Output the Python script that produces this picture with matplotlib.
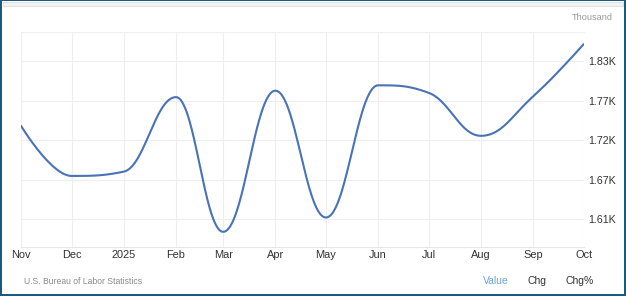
import numpy as np
import matplotlib
matplotlib.use("Agg")
import matplotlib.pyplot as plt
import matplotlib.dates as mdates
from matplotlib.patches import Rectangle
import datetime as dt

# ---- data ----
months = ["2024-11-01", "2024-12-01", "2025-01-01", "2025-02-01", "2025-03-01", "2025-04-01",
          "2025-05-01", "2025-06-01", "2025-07-01", "2025-08-01", "2025-09-01", "2025-10-01"]
values = [1.740, 1.670, 1.676, 1.780, 1.592, 1.789, 1.612, 1.7965, 1.786, 1.726, 1.781, 1.854]
x_tick_labels = ["Nov", "Dec", "2025", "Feb", "Mar", "Apr", "May", "Jun", "Jul", "Aug", "Sep", "Oct"]
y_ticks = [1.61, 1.665, 1.72, 1.775, 1.83]
y_tick_labels = ["1.61K", "1.67K", "1.72K", "1.77K", "1.83K"]
unit_label = "Thousand"
source_label = "U.S. Bureau of Labor Statistics"
buttons = ["Value", "Chg", "Chg%"]

W, H = 626, 296
plt.rcParams["font.family"] = ["Liberation Sans", "DejaVu Sans"]

dates = [dt.datetime.strptime(m, "%Y-%m-%d") for m in months]
xs = np.array(mdates.date2num(dates))
ys = np.array(values, dtype=float)


def spline_path(xs, ys, smoothing=1.5):
    """Highcharts-style spline: cubic bezier segments with no false extremes."""
    n = len(xs)
    denom = smoothing + 1
    rc = [None] * n
    lc = [None] * n
    for i in range(n):
        x, y = xs[i], ys[i]
        if 0 < i < n - 1:
            lx, ly = xs[i - 1], ys[i - 1]
            nx, ny = xs[i + 1], ys[i + 1]
            lcx = (smoothing * x + lx) / denom
            lcy = (smoothing * y + ly) / denom
            rcx = (smoothing * x + nx) / denom
            rcy = (smoothing * y + ny) / denom
            corr = 0.0
            if rcx != lcx:
                corr = (rcy - lcy) * (rcx - x) / (rcx - lcx) + y - rcy
            lcy += corr
            rcy += corr
            if lcy > ly and lcy > y:
                lcy = max(ly, y)
                rcy = 2 * y - lcy
            elif lcy < ly and lcy < y:
                lcy = min(ly, y)
                rcy = 2 * y - lcy
            if rcy > ny and rcy > y:
                rcy = max(ny, y)
                lcy = 2 * y - rcy
            elif rcy < ny and rcy < y:
                rcy = min(ny, y)
                lcy = 2 * y - rcy
            lc[i] = (lcx, lcy)
            rc[i] = (rcx, rcy)
    px, py = [xs[0]], [ys[0]]
    t = np.linspace(0, 1, 60)[1:]
    for i in range(1, n):
        p0 = (xs[i - 1], ys[i - 1])
        p1 = rc[i - 1] if rc[i - 1] is not None else p0
        p3 = (xs[i], ys[i])
        p2 = lc[i] if lc[i] is not None else p3
        bx = ((1 - t) ** 3 * p0[0] + 3 * (1 - t) ** 2 * t * p1[0]
              + 3 * (1 - t) * t ** 2 * p2[0] + t ** 3 * p3[0])
        by = ((1 - t) ** 3 * p0[1] + 3 * (1 - t) ** 2 * t * p1[1]
              + 3 * (1 - t) * t ** 2 * p2[1] + t ** 3 * p3[1])
        px.extend(bx)
        py.extend(by)
    return np.array(px), np.array(py)


fig = plt.figure(figsize=(W / 100, H / 100), dpi=100)
fig.patch.set_facecolor("white")

ax_l, ax_r, ax_t, ax_b = 21, 583.7, 32.3, 246.5
ax = fig.add_axes([ax_l / W, 1 - ax_b / H, (ax_r - ax_l) / W, (ax_b - ax_t) / H])
ax.set_facecolor("white")

sx, sy = spline_path(xs, ys)
ax.plot(sx, sy, color="#4a72b8", lw=1.5, solid_capstyle="round", zorder=3)

ax.set_xlim(xs[0], xs[-1])
ax.set_ylim(1.5715, 1.8705)

ax.set_xticks(xs)
ax.set_xticklabels(x_tick_labels)
ax.set_yticks(y_ticks)
ax.set_yticklabels(y_tick_labels)
ax.yaxis.tick_right()
ax.tick_params(axis="both", length=0, colors="#333333")
ax.tick_params(axis="y", labelsize=7.7, pad=3.5)
ax.tick_params(axis="x", labelsize=7.9, pad=2.5)
ax.grid(True, color="#eeeeee", lw=0.8, zorder=0)
for name, sp in ax.spines.items():
    sp.set_visible(False)
ax.spines["bottom"].set_visible(True)
ax.spines["bottom"].set_color("#e6e6e6")
ax.spines["bottom"].set_linewidth(0.8)
ax.spines["top"].set_visible(True)
ax.spines["top"].set_color("#f0f0f0")
ax.spines["top"].set_linewidth(0.8)

# texts
fig.text(613 / W, 1 - 17.5 / H, unit_label, ha="right", va="center", fontsize=6.6, color="#9a9a9a")
fig.text(24 / W, 1 - 281.5 / H, source_label, ha="left", va="center", fontsize=6.2, color="#8a8a8a")
btn_x = [483, 528, 566]
btn_c = ["#6aa3e0", "#333333", "#333333"]
for lab, bx, bc in zip(buttons, btn_x, btn_c):
    fig.text(bx / W, 1 - 281.5 / H, lab, ha="left", va="center", fontsize=7.5, color=bc)


def px_rect(x0, y0, x1, y1, **kw):
    fig.patches.append(Rectangle((x0 / W, 1 - y1 / H), (x1 - x0) / W, (y1 - y0) / H,
                                 transform=fig.transFigure, figure=fig, **kw))


# top grey strip
px_rect(3, 1.5, 623, 5.5, facecolor="#f2f2f2", edgecolor="#dddddd", lw=0.6)
# dark border
bc = "#1b5a80"
px_rect(0, 0, 2.3, H, facecolor=bc, edgecolor="none")
px_rect(0, 0, W, 1.2, facecolor=bc, edgecolor="none")
px_rect(W - 2.2, 0, W, H, facecolor=bc, edgecolor="none")
px_rect(0, H - 2.2, W, H, facecolor=bc, edgecolor="none")

fig.savefig("out.png", dpi=100)
